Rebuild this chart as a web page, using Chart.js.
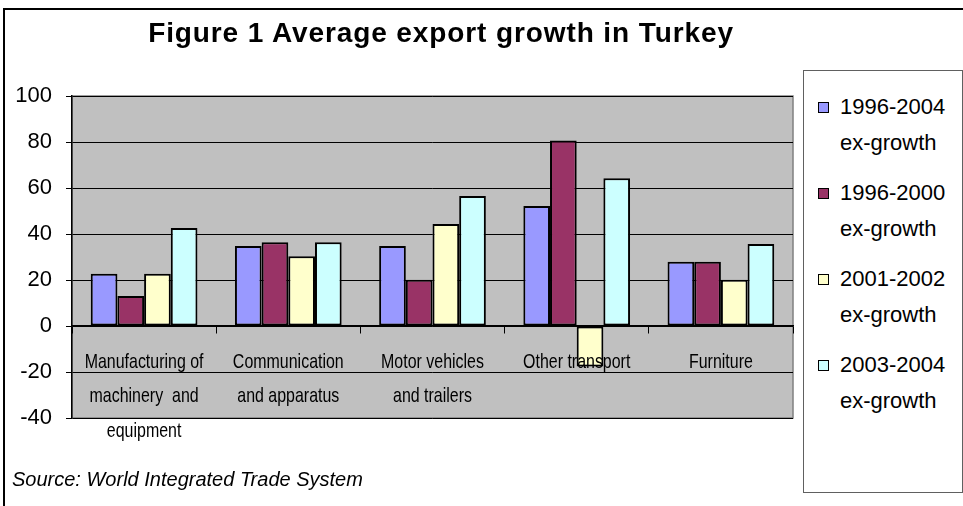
<!DOCTYPE html>
<html>
<head>
<meta charset="utf-8">
<script src="https://cdn.jsdelivr.net/npm/chart.js@4.4.1/dist/chart.umd.min.js"></script>
<style>
  body { margin: 0; background: #fff; font-family: Arial, "Liberation Sans", sans-serif; }
  #wrap { position: relative; width: 963px; height: 506px; overflow: hidden; }
  #frame { position: absolute; left: 3px; top: 8px; width: 980px; height: 520px; border-left: 2px solid #000; border-top: 2px solid #000; }
  #title { position: absolute; left: 72px; width: 738px; top: 17px; line-height: 32px; text-align: center; font-weight: bold; font-size: 28px; letter-spacing: 0.9px; }
  #legend { position: absolute; left: 803px; top: 70px; width: 158px; height: 421px; border: 1px solid #606060; background: #fff; }
  .item { position: absolute; left: 14px; font-size: 22px; line-height: 36px; white-space: nowrap; }
  .sw { position: absolute; left: 0; top: 13px; width: 9px; height: 9px; border: 1px solid #000; }
  .txt { margin-left: 22px; }
  #source { position: absolute; left: 12px; top: 468px; font-size: 20px; font-style: italic; }
  canvas { position: absolute; left: 0; top: 0; }
</style>
</head>
<body>
<div id="wrap">
  <div id="frame"></div>
  <canvas id="myChart" width="963" height="506"></canvas>
  <div id="title">Figure 1 Average export growth in Turkey</div>
  <div id="legend"></div>
  <div id="source">Source: World Integrated Trade System</div>
</div>
<script>
const categories = [
  ['Manufacturing of', 'machinery  and', 'equipment'],
  ['Communication', 'and apparatus'],
  ['Motor vehicles', 'and trailers'],
  ['Other transport'],
  ['Furniture']
];
const seriesNames = ['1996-2004 ex-growth', '1996-2000 ex-growth', '2001-2002 ex-growth', '2003-2004 ex-growth'];
const seriesColors = ['#9999FF', '#993366', '#FFFFCC', '#CCFFFF'];
const growth9604 = [22.7, 34.8, 34.8, 52.2, 27.9];
const growth9600 = [13.0, 36.4, 20.1, 80.6, 27.9];
const growth0102 = [22.7, 30.3, 44.4, -17.6, 20.1];
const growth0304 = [42.6, 36.4, 56.5, 64.2, 35.7];
const yTicks = [-40, -20, 0, 20, 40, 60, 80, 100];

const seriesValues = [growth9604, growth9600, growth0102, growth0304];

// legend in html
const legend = document.getElementById('legend');
seriesNames.forEach((name, i) => {
  const parts = name.split(' ');
  const div = document.createElement('div');
  div.className = 'item';
  div.style.top = (18 + i * 86) + 'px';
  div.innerHTML = '<span class="sw" style="background:' + seriesColors[i] + '"></span>' +
    '<div class="txt">' + parts[0] + '</div><div class="txt">' + parts[1] + '</div>';
  legend.appendChild(div);
});

const plotBg = {
  id: 'plotBg',
  beforeDraw(chart) {
    const { ctx, chartArea: a } = chart;
    ctx.save();
    ctx.fillStyle = '#C0C0C0';
    ctx.fillRect(a.left, a.top, a.right - a.left, a.bottom - a.top);
    ctx.strokeStyle = '#808080';
    ctx.lineWidth = 1.5;
    ctx.strokeRect(a.left, a.top, a.right - a.left, a.bottom - a.top);
    ctx.restore();
  }
};

// category labels sit under the zero line, in a narrow face (Excel style)
const catLabels = {
  id: 'catLabels',
  afterDatasetsDraw(chart) {
    const { ctx, scales: { x, y } } = chart;
    const y0 = y.getPixelForValue(0);
    ctx.save();
    ctx.fillStyle = '#000';
    ctx.font = '21px Arial, "Liberation Sans", sans-serif';
    ctx.textAlign = 'center';
    ctx.textBaseline = 'middle';
    categories.forEach((lines, i) => {
      const cx = x.getPixelForValue(i);
      lines.forEach((line, j) => {
        ctx.save();
        ctx.translate(cx, y0 + 36 + j * 34.5);
        ctx.scale(0.76, 1);
        ctx.fillText(line, 0, 0);
        ctx.restore();
      });
    });
    ctx.restore();
  }
};

let ctx = document.getElementById('myChart');
let myChart = new Chart(ctx, {
  type: 'bar',
  data: {
    labels: categories.map(c => c.join(' ')),
    datasets: seriesValues.map((vals, i) => ({
      label: seriesNames[i],
      data: vals,
      backgroundColor: seriesColors[i],
      borderColor: '#000',
      borderWidth: 2,
      borderSkipped: false,
      barPercentage: 1,
      categoryPercentage: 0.74
    }))
  },
  options: {
    responsive: false,
    animation: false,
    devicePixelRatio: 1,
    layout: { padding: { left: 0, top: 96, right: 170, bottom: 88 } },
    plugins: {
      legend: { display: false },
      title: { display: false },
      tooltip: { enabled: false }
    },
    scales: {
      x: {
        position: { y: 0 },
        grid: { offset: true, drawOnChartArea: false, tickLength: 7, tickColor: '#000', tickWidth: 1, z: 1 },
        border: { color: '#000', width: 1.5, z: 1 },
        ticks: { display: false }
      },
      y: {
        min: -40,
        max: 100,
        afterFit(scale) { scale.width = 72; },
        afterBuildTicks(scale) { scale.ticks = yTicks.map(v => ({ value: v })); },
        grid: { color: '#000', lineWidth: 1, tickLength: 6, tickColor: '#000' },
        border: { color: '#000', width: 1.5 },
        ticks: {
          color: '#000',
          padding: 14,
          font: { family: 'Arial, "Liberation Sans", sans-serif', size: 22 }
        }
      }
    }
  },
  plugins: [plotBg, catLabels]
});
</script>
</body>
</html>
